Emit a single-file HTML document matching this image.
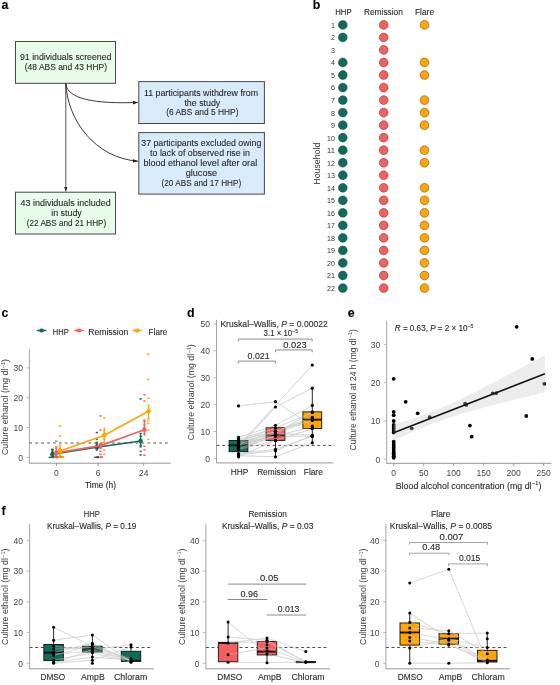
<!DOCTYPE html>
<html><head><meta charset="utf-8"><title>Figure</title>
<style>
html,body{margin:0;padding:0;background:#fff;}
body{width:560px;height:685px;overflow:hidden;}
svg{display:block;font-family:"Liberation Sans", sans-serif;will-change:transform;}
text{stroke:#2b2b2b;stroke-width:0.1px;}
</style></head><body>
<svg width="560" height="685" viewBox="0 0 560 685">
<rect x="0" y="0" width="560" height="685" fill="#fff"/>
<text x="1.50" y="8.80" font-size="12.4" fill="#000" font-weight="bold">a</text>
<text x="312.70" y="8.80" font-size="12.4" fill="#000" font-weight="bold">b</text>
<text x="1.50" y="316.80" font-size="12.4" fill="#000" font-weight="bold">c</text>
<text x="187.00" y="316.80" font-size="12.4" fill="#000" font-weight="bold">d</text>
<text x="347.70" y="316.80" font-size="12.4" fill="#000" font-weight="bold">e</text>
<text x="1.50" y="514.80" font-size="12.4" fill="#000" font-weight="bold">f</text>
<rect x="15.50" y="41.50" width="100.00" height="41.80" fill="#e7fcea" stroke="#474747" stroke-width="1"/>
<text x="65.70" y="60.20" font-size="9.6" fill="#231f20" text-anchor="middle" textLength="91.40" lengthAdjust="spacingAndGlyphs">91 individuals screened</text>
<text x="65.90" y="69.90" font-size="9.6" fill="#231f20" text-anchor="middle" textLength="82.20" lengthAdjust="spacingAndGlyphs">(48 ABS and 43 HHP)</text>
<rect x="138.80" y="81.60" width="125.60" height="41.90" fill="#d8ebfb" stroke="#474747" stroke-width="1"/>
<text x="201.00" y="95.60" font-size="9.6" fill="#231f20" text-anchor="middle" textLength="114.10" lengthAdjust="spacingAndGlyphs">11 participants withdrew from</text>
<text x="202.35" y="105.60" font-size="9.6" fill="#231f20" text-anchor="middle" textLength="35.90" lengthAdjust="spacingAndGlyphs">the study</text>
<text x="202.35" y="115.20" font-size="9.6" fill="#231f20" text-anchor="middle" textLength="72.30" lengthAdjust="spacingAndGlyphs">(6 ABS and 5 HHP)</text>
<rect x="138.80" y="132.60" width="125.60" height="61.50" fill="#d8ebfb" stroke="#474747" stroke-width="1"/>
<text x="201.30" y="146.40" font-size="9.6" fill="#231f20" text-anchor="middle" textLength="120.00" lengthAdjust="spacingAndGlyphs">37 participants excluded owing</text>
<text x="200.05" y="156.20" font-size="9.6" fill="#231f20" text-anchor="middle" textLength="99.90" lengthAdjust="spacingAndGlyphs">to lack of observed rise in</text>
<text x="200.30" y="166.00" font-size="9.6" fill="#231f20" text-anchor="middle" textLength="113.80" lengthAdjust="spacingAndGlyphs">blood ethanol level after oral</text>
<text x="201.40" y="176.10" font-size="9.6" fill="#231f20" text-anchor="middle" textLength="31.40" lengthAdjust="spacingAndGlyphs">glucose</text>
<text x="201.40" y="186.00" font-size="9.6" fill="#231f20" text-anchor="middle" textLength="79.60" lengthAdjust="spacingAndGlyphs">(20 ABS and 17 HHP)</text>
<rect x="15.50" y="192.20" width="100.00" height="41.80" fill="#e7fcea" stroke="#474747" stroke-width="1"/>
<text x="65.60" y="205.80" font-size="9.6" fill="#231f20" text-anchor="middle" textLength="90.25" lengthAdjust="spacingAndGlyphs">43 individuals included</text>
<text x="66.50" y="215.90" font-size="9.6" fill="#231f20" text-anchor="middle" textLength="30.50" lengthAdjust="spacingAndGlyphs">in study</text>
<text x="66.50" y="225.70" font-size="9.6" fill="#231f20" text-anchor="middle" textLength="79.50" lengthAdjust="spacingAndGlyphs">(22 ABS and 21 HHP)</text>
<defs><marker id="ah" markerWidth="6" markerHeight="6" refX="5" refY="3" orient="auto" markerUnits="userSpaceOnUse"><path d="M0,1.2 L5,3 L0,4.8 z" fill="#222"/></marker></defs>
<path d="M65.8,83.3 L65.8,191.5" stroke="#555" stroke-width="1" fill="none" marker-end="url(#ah)"/>
<path d="M65.8,83.5 C67,99 95,104.2 138,102.4" stroke="#222" stroke-width="0.9" fill="none" marker-end="url(#ah)"/>
<path d="M65.8,83.5 C67.5,120 95,158 138,161.2" stroke="#222" stroke-width="0.9" fill="none" marker-end="url(#ah)"/>
<text x="343.40" y="14.50" font-size="8.2" fill="#231f20" text-anchor="middle" textLength="16.50" lengthAdjust="spacingAndGlyphs">HHP</text>
<text x="383.40" y="14.50" font-size="8.2" fill="#231f20" text-anchor="middle" textLength="38.80" lengthAdjust="spacingAndGlyphs">Remission</text>
<text x="424.50" y="14.50" font-size="8.2" fill="#231f20" text-anchor="middle" textLength="19.20" lengthAdjust="spacingAndGlyphs">Flare</text>
<text x="320.20" y="163.70" font-size="8.6" fill="#2e2e2e" text-anchor="middle" textLength="42.00" lengthAdjust="spacingAndGlyphs" transform="rotate(-90 320.20 163.70)" style="stroke:none">Household</text>
<text x="335.00" y="27.80" font-size="6.6" fill="#333" text-anchor="end" textLength="3.95" lengthAdjust="spacingAndGlyphs" style="stroke:none">1</text>
<circle cx="342.80" cy="24.90" r="4.40" fill="#0d6d5a" stroke="#1d3a33" stroke-width="0.5"/>
<circle cx="383.70" cy="24.90" r="4.40" fill="#f4605f" stroke="#5a2a2a" stroke-width="0.5"/>
<circle cx="424.50" cy="24.90" r="4.40" fill="#ffa502" stroke="#5a4010" stroke-width="0.5"/>
<text x="335.00" y="40.33" font-size="6.6" fill="#333" text-anchor="end" textLength="3.95" lengthAdjust="spacingAndGlyphs" style="stroke:none">2</text>
<circle cx="342.80" cy="37.43" r="4.40" fill="#0d6d5a" stroke="#1d3a33" stroke-width="0.5"/>
<circle cx="383.70" cy="37.43" r="4.40" fill="#f4605f" stroke="#5a2a2a" stroke-width="0.5"/>
<text x="335.00" y="52.86" font-size="6.6" fill="#333" text-anchor="end" textLength="3.95" lengthAdjust="spacingAndGlyphs" style="stroke:none">3</text>
<circle cx="383.70" cy="49.96" r="4.40" fill="#f4605f" stroke="#5a2a2a" stroke-width="0.5"/>
<text x="335.00" y="65.39" font-size="6.6" fill="#333" text-anchor="end" textLength="3.95" lengthAdjust="spacingAndGlyphs" style="stroke:none">4</text>
<circle cx="342.80" cy="62.49" r="4.40" fill="#0d6d5a" stroke="#1d3a33" stroke-width="0.5"/>
<circle cx="383.70" cy="62.49" r="4.40" fill="#f4605f" stroke="#5a2a2a" stroke-width="0.5"/>
<circle cx="424.50" cy="62.49" r="4.40" fill="#ffa502" stroke="#5a4010" stroke-width="0.5"/>
<text x="335.00" y="77.92" font-size="6.6" fill="#333" text-anchor="end" textLength="3.95" lengthAdjust="spacingAndGlyphs" style="stroke:none">5</text>
<circle cx="342.80" cy="75.02" r="4.40" fill="#0d6d5a" stroke="#1d3a33" stroke-width="0.5"/>
<circle cx="383.70" cy="75.02" r="4.40" fill="#f4605f" stroke="#5a2a2a" stroke-width="0.5"/>
<circle cx="424.50" cy="75.02" r="4.40" fill="#ffa502" stroke="#5a4010" stroke-width="0.5"/>
<text x="335.00" y="90.45" font-size="6.6" fill="#333" text-anchor="end" textLength="3.95" lengthAdjust="spacingAndGlyphs" style="stroke:none">6</text>
<circle cx="342.80" cy="87.55" r="4.40" fill="#0d6d5a" stroke="#1d3a33" stroke-width="0.5"/>
<circle cx="383.70" cy="87.55" r="4.40" fill="#f4605f" stroke="#5a2a2a" stroke-width="0.5"/>
<text x="335.00" y="102.98" font-size="6.6" fill="#333" text-anchor="end" textLength="3.95" lengthAdjust="spacingAndGlyphs" style="stroke:none">7</text>
<circle cx="342.80" cy="100.08" r="4.40" fill="#0d6d5a" stroke="#1d3a33" stroke-width="0.5"/>
<circle cx="383.70" cy="100.08" r="4.40" fill="#f4605f" stroke="#5a2a2a" stroke-width="0.5"/>
<circle cx="424.50" cy="100.08" r="4.40" fill="#ffa502" stroke="#5a4010" stroke-width="0.5"/>
<text x="335.00" y="115.51" font-size="6.6" fill="#333" text-anchor="end" textLength="3.95" lengthAdjust="spacingAndGlyphs" style="stroke:none">8</text>
<circle cx="342.80" cy="112.61" r="4.40" fill="#0d6d5a" stroke="#1d3a33" stroke-width="0.5"/>
<circle cx="383.70" cy="112.61" r="4.40" fill="#f4605f" stroke="#5a2a2a" stroke-width="0.5"/>
<circle cx="424.50" cy="112.61" r="4.40" fill="#ffa502" stroke="#5a4010" stroke-width="0.5"/>
<text x="335.00" y="128.04" font-size="6.6" fill="#333" text-anchor="end" textLength="3.95" lengthAdjust="spacingAndGlyphs" style="stroke:none">9</text>
<circle cx="342.80" cy="125.14" r="4.40" fill="#0d6d5a" stroke="#1d3a33" stroke-width="0.5"/>
<circle cx="383.70" cy="125.14" r="4.40" fill="#f4605f" stroke="#5a2a2a" stroke-width="0.5"/>
<circle cx="424.50" cy="125.14" r="4.40" fill="#ffa502" stroke="#5a4010" stroke-width="0.5"/>
<text x="335.00" y="140.57" font-size="6.6" fill="#333" text-anchor="end" textLength="7.90" lengthAdjust="spacingAndGlyphs" style="stroke:none">10</text>
<circle cx="342.80" cy="137.67" r="4.40" fill="#0d6d5a" stroke="#1d3a33" stroke-width="0.5"/>
<circle cx="383.70" cy="137.67" r="4.40" fill="#f4605f" stroke="#5a2a2a" stroke-width="0.5"/>
<text x="335.00" y="153.10" font-size="6.6" fill="#333" text-anchor="end" textLength="7.90" lengthAdjust="spacingAndGlyphs" style="stroke:none">11</text>
<circle cx="342.80" cy="150.20" r="4.40" fill="#0d6d5a" stroke="#1d3a33" stroke-width="0.5"/>
<circle cx="383.70" cy="150.20" r="4.40" fill="#f4605f" stroke="#5a2a2a" stroke-width="0.5"/>
<circle cx="424.50" cy="150.20" r="4.40" fill="#ffa502" stroke="#5a4010" stroke-width="0.5"/>
<text x="335.00" y="165.63" font-size="6.6" fill="#333" text-anchor="end" textLength="7.90" lengthAdjust="spacingAndGlyphs" style="stroke:none">12</text>
<circle cx="342.80" cy="162.73" r="4.40" fill="#0d6d5a" stroke="#1d3a33" stroke-width="0.5"/>
<circle cx="383.70" cy="162.73" r="4.40" fill="#f4605f" stroke="#5a2a2a" stroke-width="0.5"/>
<circle cx="424.50" cy="162.73" r="4.40" fill="#ffa502" stroke="#5a4010" stroke-width="0.5"/>
<text x="335.00" y="178.16" font-size="6.6" fill="#333" text-anchor="end" textLength="7.90" lengthAdjust="spacingAndGlyphs" style="stroke:none">13</text>
<circle cx="342.80" cy="175.26" r="4.40" fill="#0d6d5a" stroke="#1d3a33" stroke-width="0.5"/>
<circle cx="383.70" cy="175.26" r="4.40" fill="#f4605f" stroke="#5a2a2a" stroke-width="0.5"/>
<text x="335.00" y="190.69" font-size="6.6" fill="#333" text-anchor="end" textLength="7.90" lengthAdjust="spacingAndGlyphs" style="stroke:none">14</text>
<circle cx="342.80" cy="187.79" r="4.40" fill="#0d6d5a" stroke="#1d3a33" stroke-width="0.5"/>
<circle cx="383.70" cy="187.79" r="4.40" fill="#f4605f" stroke="#5a2a2a" stroke-width="0.5"/>
<circle cx="424.50" cy="187.79" r="4.40" fill="#ffa502" stroke="#5a4010" stroke-width="0.5"/>
<text x="335.00" y="203.22" font-size="6.6" fill="#333" text-anchor="end" textLength="7.90" lengthAdjust="spacingAndGlyphs" style="stroke:none">15</text>
<circle cx="342.80" cy="200.32" r="4.40" fill="#0d6d5a" stroke="#1d3a33" stroke-width="0.5"/>
<circle cx="383.70" cy="200.32" r="4.40" fill="#f4605f" stroke="#5a2a2a" stroke-width="0.5"/>
<circle cx="424.50" cy="200.32" r="4.40" fill="#ffa502" stroke="#5a4010" stroke-width="0.5"/>
<text x="335.00" y="215.75" font-size="6.6" fill="#333" text-anchor="end" textLength="7.90" lengthAdjust="spacingAndGlyphs" style="stroke:none">16</text>
<circle cx="342.80" cy="212.85" r="4.40" fill="#0d6d5a" stroke="#1d3a33" stroke-width="0.5"/>
<circle cx="383.70" cy="212.85" r="4.40" fill="#f4605f" stroke="#5a2a2a" stroke-width="0.5"/>
<circle cx="424.50" cy="212.85" r="4.40" fill="#ffa502" stroke="#5a4010" stroke-width="0.5"/>
<text x="335.00" y="228.28" font-size="6.6" fill="#333" text-anchor="end" textLength="7.90" lengthAdjust="spacingAndGlyphs" style="stroke:none">17</text>
<circle cx="342.80" cy="225.38" r="4.40" fill="#0d6d5a" stroke="#1d3a33" stroke-width="0.5"/>
<circle cx="383.70" cy="225.38" r="4.40" fill="#f4605f" stroke="#5a2a2a" stroke-width="0.5"/>
<circle cx="424.50" cy="225.38" r="4.40" fill="#ffa502" stroke="#5a4010" stroke-width="0.5"/>
<text x="335.00" y="240.81" font-size="6.6" fill="#333" text-anchor="end" textLength="7.90" lengthAdjust="spacingAndGlyphs" style="stroke:none">18</text>
<circle cx="342.80" cy="237.91" r="4.40" fill="#0d6d5a" stroke="#1d3a33" stroke-width="0.5"/>
<circle cx="383.70" cy="237.91" r="4.40" fill="#f4605f" stroke="#5a2a2a" stroke-width="0.5"/>
<circle cx="424.50" cy="237.91" r="4.40" fill="#ffa502" stroke="#5a4010" stroke-width="0.5"/>
<text x="335.00" y="253.34" font-size="6.6" fill="#333" text-anchor="end" textLength="7.90" lengthAdjust="spacingAndGlyphs" style="stroke:none">19</text>
<circle cx="342.80" cy="250.44" r="4.40" fill="#0d6d5a" stroke="#1d3a33" stroke-width="0.5"/>
<circle cx="383.70" cy="250.44" r="4.40" fill="#f4605f" stroke="#5a2a2a" stroke-width="0.5"/>
<circle cx="424.50" cy="250.44" r="4.40" fill="#ffa502" stroke="#5a4010" stroke-width="0.5"/>
<text x="335.00" y="265.87" font-size="6.6" fill="#333" text-anchor="end" textLength="7.90" lengthAdjust="spacingAndGlyphs" style="stroke:none">20</text>
<circle cx="342.80" cy="262.97" r="4.40" fill="#0d6d5a" stroke="#1d3a33" stroke-width="0.5"/>
<circle cx="383.70" cy="262.97" r="4.40" fill="#f4605f" stroke="#5a2a2a" stroke-width="0.5"/>
<circle cx="424.50" cy="262.97" r="4.40" fill="#ffa502" stroke="#5a4010" stroke-width="0.5"/>
<text x="335.00" y="278.40" font-size="6.6" fill="#333" text-anchor="end" textLength="7.90" lengthAdjust="spacingAndGlyphs" style="stroke:none">21</text>
<circle cx="342.80" cy="275.50" r="4.40" fill="#0d6d5a" stroke="#1d3a33" stroke-width="0.5"/>
<circle cx="383.70" cy="275.50" r="4.40" fill="#f4605f" stroke="#5a2a2a" stroke-width="0.5"/>
<circle cx="424.50" cy="275.50" r="4.40" fill="#ffa502" stroke="#5a4010" stroke-width="0.5"/>
<text x="335.00" y="290.93" font-size="6.6" fill="#333" text-anchor="end" textLength="7.90" lengthAdjust="spacingAndGlyphs" style="stroke:none">22</text>
<circle cx="342.80" cy="288.03" r="4.40" fill="#0d6d5a" stroke="#1d3a33" stroke-width="0.5"/>
<circle cx="383.70" cy="288.03" r="4.40" fill="#f4605f" stroke="#5a2a2a" stroke-width="0.5"/>
<circle cx="424.50" cy="288.03" r="4.40" fill="#ffa502" stroke="#5a4010" stroke-width="0.5"/>
<line x1="36.80" y1="330.50" x2="46.40" y2="330.50" stroke="#0d6d5a" stroke-width="1.5"/>
<ellipse cx="41.60" cy="330.5" rx="2.5" ry="2.1" fill="#0d6d5a"/>
<text x="52.80" y="334.70" font-size="8.4" fill="#231f20" textLength="16.00" lengthAdjust="spacingAndGlyphs">HHP</text>
<line x1="74.20" y1="330.50" x2="83.80" y2="330.50" stroke="#f4605f" stroke-width="1.5"/>
<ellipse cx="79.00" cy="330.5" rx="2.5" ry="2.1" fill="#f4605f"/>
<text x="88.30" y="334.70" font-size="8.4" fill="#231f20" textLength="40.00" lengthAdjust="spacingAndGlyphs">Remission</text>
<line x1="132.30" y1="330.50" x2="141.90" y2="330.50" stroke="#ffa502" stroke-width="1.5"/>
<ellipse cx="137.10" cy="330.5" rx="2.5" ry="2.1" fill="#ffa502"/>
<text x="148.60" y="334.70" font-size="8.4" fill="#231f20" textLength="18.60" lengthAdjust="spacingAndGlyphs">Flare</text>
<line x1="29.40" y1="349.10" x2="29.40" y2="463.40" stroke="#9a9a9a" stroke-width="0.9"/>
<line x1="26.40" y1="457.30" x2="29.40" y2="457.30" stroke="#aaa" stroke-width="0.8"/>
<text x="22.90" y="460.70" font-size="8.4" fill="#444" text-anchor="end" textLength="4.75" lengthAdjust="spacingAndGlyphs" style="stroke:none">0</text>
<line x1="26.40" y1="427.50" x2="29.40" y2="427.50" stroke="#aaa" stroke-width="0.8"/>
<text x="22.90" y="430.90" font-size="8.4" fill="#444" text-anchor="end" textLength="9.50" lengthAdjust="spacingAndGlyphs" style="stroke:none">10</text>
<line x1="26.40" y1="397.70" x2="29.40" y2="397.70" stroke="#aaa" stroke-width="0.8"/>
<text x="22.90" y="401.10" font-size="8.4" fill="#444" text-anchor="end" textLength="9.50" lengthAdjust="spacingAndGlyphs" style="stroke:none">20</text>
<line x1="26.40" y1="367.90" x2="29.40" y2="367.90" stroke="#aaa" stroke-width="0.8"/>
<text x="22.90" y="371.30" font-size="8.4" fill="#444" text-anchor="end" textLength="9.50" lengthAdjust="spacingAndGlyphs" style="stroke:none">30</text>
<line x1="29.40" y1="463.20" x2="170.80" y2="463.20" stroke="#8a8a8a" stroke-width="0.9"/>
<line x1="56.40" y1="463.20" x2="56.40" y2="466.20" stroke="#8a8a8a" stroke-width="0.8"/>
<text x="56.40" y="476.20" font-size="8.4" fill="#444" text-anchor="middle" textLength="4.75" lengthAdjust="spacingAndGlyphs" style="stroke:none">0</text>
<line x1="98.10" y1="463.20" x2="98.10" y2="466.20" stroke="#8a8a8a" stroke-width="0.8"/>
<text x="98.10" y="476.20" font-size="8.4" fill="#444" text-anchor="middle" textLength="4.75" lengthAdjust="spacingAndGlyphs" style="stroke:none">6</text>
<line x1="143.70" y1="463.20" x2="143.70" y2="466.20" stroke="#8a8a8a" stroke-width="0.8"/>
<text x="143.70" y="476.20" font-size="8.4" fill="#444" text-anchor="middle" textLength="9.50" lengthAdjust="spacingAndGlyphs" style="stroke:none">24</text>
<text x="100.50" y="488.20" font-size="8.2" fill="#231f20" text-anchor="middle" textLength="31.00" lengthAdjust="spacingAndGlyphs">Time (h)</text>
<text x="8.10" y="407.00" font-size="8.6" fill="#3a3a3a" text-anchor="middle" transform="rotate(-90 8.10 407.00)" style="stroke:none" textLength="96.00" lengthAdjust="spacingAndGlyphs">Culture ethanol (mg dl<tspan font-size="5.33" dy="-3.4" dx="0.5">−1</tspan><tspan dy="3.4">)</tspan></text>
<line x1="29.40" y1="443.00" x2="171.00" y2="443.00" stroke="#555" stroke-width="1.1" stroke-dasharray="2.7 3.2"/>
<rect x="52.20" y="456.55" width="2.20" height="1.50" fill="#0d6d5a" stroke="none" stroke-width="1"/>
<rect x="52.20" y="456.55" width="2.20" height="1.50" fill="#0d6d5a" stroke="none" stroke-width="1"/>
<rect x="52.20" y="456.55" width="2.20" height="1.50" fill="#0d6d5a" stroke="none" stroke-width="1"/>
<rect x="52.20" y="456.55" width="2.20" height="1.50" fill="#0d6d5a" stroke="none" stroke-width="1"/>
<rect x="51.30" y="455.66" width="2.20" height="1.50" fill="#0d6d5a" stroke="none" stroke-width="1"/>
<rect x="51.30" y="454.76" width="2.20" height="1.50" fill="#0d6d5a" stroke="none" stroke-width="1"/>
<rect x="51.30" y="453.57" width="2.20" height="1.50" fill="#0d6d5a" stroke="none" stroke-width="1"/>
<rect x="51.30" y="452.08" width="2.20" height="1.50" fill="#0d6d5a" stroke="none" stroke-width="1"/>
<rect x="51.30" y="450.59" width="2.20" height="1.50" fill="#0d6d5a" stroke="none" stroke-width="1"/>
<rect x="51.30" y="449.10" width="2.20" height="1.50" fill="#0d6d5a" stroke="none" stroke-width="1"/>
<rect x="51.30" y="448.50" width="2.20" height="1.50" fill="#0d6d5a" stroke="none" stroke-width="1"/>
<rect x="96.60" y="456.55" width="2.20" height="1.50" fill="#0d6d5a" stroke="none" stroke-width="1"/>
<rect x="96.60" y="456.55" width="2.20" height="1.50" fill="#0d6d5a" stroke="none" stroke-width="1"/>
<rect x="96.60" y="456.55" width="2.20" height="1.50" fill="#0d6d5a" stroke="none" stroke-width="1"/>
<rect x="96.60" y="456.55" width="2.20" height="1.50" fill="#0d6d5a" stroke="none" stroke-width="1"/>
<rect x="96.60" y="456.55" width="2.20" height="1.50" fill="#0d6d5a" stroke="none" stroke-width="1"/>
<rect x="95.70" y="449.10" width="2.20" height="1.50" fill="#0d6d5a" stroke="none" stroke-width="1"/>
<rect x="95.70" y="447.61" width="2.20" height="1.50" fill="#0d6d5a" stroke="none" stroke-width="1"/>
<rect x="95.70" y="444.63" width="2.20" height="1.50" fill="#0d6d5a" stroke="none" stroke-width="1"/>
<rect x="95.70" y="443.14" width="2.20" height="1.50" fill="#0d6d5a" stroke="none" stroke-width="1"/>
<rect x="95.70" y="441.65" width="2.20" height="1.50" fill="#0d6d5a" stroke="none" stroke-width="1"/>
<rect x="95.70" y="438.37" width="2.20" height="1.50" fill="#0d6d5a" stroke="none" stroke-width="1"/>
<rect x="95.70" y="431.82" width="2.20" height="1.50" fill="#0d6d5a" stroke="none" stroke-width="1"/>
<rect x="139.50" y="454.17" width="2.20" height="1.50" fill="#0d6d5a" stroke="none" stroke-width="1"/>
<rect x="139.50" y="450.59" width="2.20" height="1.50" fill="#0d6d5a" stroke="none" stroke-width="1"/>
<rect x="139.50" y="446.12" width="2.20" height="1.50" fill="#0d6d5a" stroke="none" stroke-width="1"/>
<rect x="139.50" y="444.63" width="2.20" height="1.50" fill="#0d6d5a" stroke="none" stroke-width="1"/>
<rect x="139.50" y="441.65" width="2.20" height="1.50" fill="#0d6d5a" stroke="none" stroke-width="1"/>
<rect x="139.50" y="440.16" width="2.20" height="1.50" fill="#0d6d5a" stroke="none" stroke-width="1"/>
<rect x="139.50" y="438.67" width="2.20" height="1.50" fill="#0d6d5a" stroke="none" stroke-width="1"/>
<rect x="139.50" y="435.69" width="2.20" height="1.50" fill="#0d6d5a" stroke="none" stroke-width="1"/>
<rect x="139.50" y="432.71" width="2.20" height="1.50" fill="#0d6d5a" stroke="none" stroke-width="1"/>
<rect x="139.50" y="398.14" width="2.20" height="1.50" fill="#0d6d5a" stroke="none" stroke-width="1"/>
<rect x="56.00" y="456.55" width="2.20" height="1.50" fill="#f4605f" stroke="none" stroke-width="1"/>
<rect x="56.00" y="456.55" width="2.20" height="1.50" fill="#f4605f" stroke="none" stroke-width="1"/>
<rect x="56.00" y="456.55" width="2.20" height="1.50" fill="#f4605f" stroke="none" stroke-width="1"/>
<rect x="56.00" y="456.55" width="2.20" height="1.50" fill="#f4605f" stroke="none" stroke-width="1"/>
<rect x="55.10" y="455.06" width="2.20" height="1.50" fill="#f4605f" stroke="none" stroke-width="1"/>
<rect x="55.10" y="453.57" width="2.20" height="1.50" fill="#f4605f" stroke="none" stroke-width="1"/>
<rect x="55.10" y="452.08" width="2.20" height="1.50" fill="#f4605f" stroke="none" stroke-width="1"/>
<rect x="55.10" y="450.59" width="2.20" height="1.50" fill="#f4605f" stroke="none" stroke-width="1"/>
<rect x="55.10" y="447.61" width="2.20" height="1.50" fill="#f4605f" stroke="none" stroke-width="1"/>
<rect x="55.10" y="446.12" width="2.20" height="1.50" fill="#f4605f" stroke="none" stroke-width="1"/>
<rect x="55.10" y="440.46" width="2.20" height="1.50" fill="#f4605f" stroke="none" stroke-width="1"/>
<rect x="100.30" y="456.55" width="2.20" height="1.50" fill="#f4605f" stroke="none" stroke-width="1"/>
<rect x="100.30" y="456.55" width="2.20" height="1.50" fill="#f4605f" stroke="none" stroke-width="1"/>
<rect x="100.30" y="456.55" width="2.20" height="1.50" fill="#f4605f" stroke="none" stroke-width="1"/>
<rect x="99.40" y="453.57" width="2.20" height="1.50" fill="#f4605f" stroke="none" stroke-width="1"/>
<rect x="99.40" y="450.59" width="2.20" height="1.50" fill="#f4605f" stroke="none" stroke-width="1"/>
<rect x="99.40" y="447.61" width="2.20" height="1.50" fill="#f4605f" stroke="none" stroke-width="1"/>
<rect x="99.40" y="446.12" width="2.20" height="1.50" fill="#f4605f" stroke="none" stroke-width="1"/>
<rect x="99.40" y="443.14" width="2.20" height="1.50" fill="#f4605f" stroke="none" stroke-width="1"/>
<rect x="99.40" y="429.13" width="2.20" height="1.50" fill="#f4605f" stroke="none" stroke-width="1"/>
<rect x="99.40" y="415.13" width="2.20" height="1.50" fill="#f4605f" stroke="none" stroke-width="1"/>
<rect x="143.30" y="454.46" width="2.20" height="1.50" fill="#f4605f" stroke="none" stroke-width="1"/>
<rect x="143.30" y="449.10" width="2.20" height="1.50" fill="#f4605f" stroke="none" stroke-width="1"/>
<rect x="143.30" y="445.52" width="2.20" height="1.50" fill="#f4605f" stroke="none" stroke-width="1"/>
<rect x="143.30" y="432.71" width="2.20" height="1.50" fill="#f4605f" stroke="none" stroke-width="1"/>
<rect x="143.30" y="426.75" width="2.20" height="1.50" fill="#f4605f" stroke="none" stroke-width="1"/>
<rect x="143.30" y="423.77" width="2.20" height="1.50" fill="#f4605f" stroke="none" stroke-width="1"/>
<rect x="143.30" y="420.79" width="2.20" height="1.50" fill="#f4605f" stroke="none" stroke-width="1"/>
<rect x="143.30" y="419.30" width="2.20" height="1.50" fill="#f4605f" stroke="none" stroke-width="1"/>
<rect x="143.30" y="400.23" width="2.20" height="1.50" fill="#f4605f" stroke="none" stroke-width="1"/>
<rect x="143.30" y="393.97" width="2.20" height="1.50" fill="#f4605f" stroke="none" stroke-width="1"/>
<rect x="59.90" y="456.55" width="2.20" height="1.50" fill="#ffa502" stroke="none" stroke-width="1"/>
<rect x="59.90" y="456.55" width="2.20" height="1.50" fill="#ffa502" stroke="none" stroke-width="1"/>
<rect x="59.90" y="456.55" width="2.20" height="1.50" fill="#ffa502" stroke="none" stroke-width="1"/>
<rect x="59.90" y="456.55" width="2.20" height="1.50" fill="#ffa502" stroke="none" stroke-width="1"/>
<rect x="59.90" y="456.55" width="2.20" height="1.50" fill="#ffa502" stroke="none" stroke-width="1"/>
<rect x="59.00" y="455.06" width="2.20" height="1.50" fill="#ffa502" stroke="none" stroke-width="1"/>
<rect x="59.00" y="453.57" width="2.20" height="1.50" fill="#ffa502" stroke="none" stroke-width="1"/>
<rect x="59.00" y="450.59" width="2.20" height="1.50" fill="#ffa502" stroke="none" stroke-width="1"/>
<rect x="59.00" y="447.61" width="2.20" height="1.50" fill="#ffa502" stroke="none" stroke-width="1"/>
<rect x="59.00" y="444.63" width="2.20" height="1.50" fill="#ffa502" stroke="none" stroke-width="1"/>
<rect x="59.00" y="435.39" width="2.20" height="1.50" fill="#ffa502" stroke="none" stroke-width="1"/>
<rect x="59.00" y="425.26" width="2.20" height="1.50" fill="#ffa502" stroke="none" stroke-width="1"/>
<rect x="103.20" y="453.57" width="2.20" height="1.50" fill="#ffa502" stroke="none" stroke-width="1"/>
<rect x="103.20" y="449.40" width="2.20" height="1.50" fill="#ffa502" stroke="none" stroke-width="1"/>
<rect x="103.20" y="441.65" width="2.20" height="1.50" fill="#ffa502" stroke="none" stroke-width="1"/>
<rect x="103.20" y="438.67" width="2.20" height="1.50" fill="#ffa502" stroke="none" stroke-width="1"/>
<rect x="103.20" y="435.69" width="2.20" height="1.50" fill="#ffa502" stroke="none" stroke-width="1"/>
<rect x="103.20" y="432.71" width="2.20" height="1.50" fill="#ffa502" stroke="none" stroke-width="1"/>
<rect x="103.20" y="429.73" width="2.20" height="1.50" fill="#ffa502" stroke="none" stroke-width="1"/>
<rect x="103.20" y="417.21" width="2.20" height="1.50" fill="#ffa502" stroke="none" stroke-width="1"/>
<rect x="147.20" y="438.67" width="2.20" height="1.50" fill="#ffa502" stroke="none" stroke-width="1"/>
<rect x="147.20" y="429.13" width="2.20" height="1.50" fill="#ffa502" stroke="none" stroke-width="1"/>
<rect x="147.20" y="422.88" width="2.20" height="1.50" fill="#ffa502" stroke="none" stroke-width="1"/>
<rect x="147.20" y="420.19" width="2.20" height="1.50" fill="#ffa502" stroke="none" stroke-width="1"/>
<rect x="147.20" y="417.81" width="2.20" height="1.50" fill="#ffa502" stroke="none" stroke-width="1"/>
<rect x="147.20" y="410.06" width="2.20" height="1.50" fill="#ffa502" stroke="none" stroke-width="1"/>
<rect x="147.20" y="404.70" width="2.20" height="1.50" fill="#ffa502" stroke="none" stroke-width="1"/>
<rect x="147.20" y="397.55" width="2.20" height="1.50" fill="#ffa502" stroke="none" stroke-width="1"/>
<rect x="147.20" y="378.77" width="2.20" height="1.50" fill="#ffa502" stroke="none" stroke-width="1"/>
<rect x="147.20" y="353.44" width="2.20" height="1.50" fill="#ffa502" stroke="none" stroke-width="1"/>
<rect x="48.60" y="456.60" width="15.50" height="1.40" fill="#0d6d5a" stroke="none" stroke-width="1"/>
<rect x="53.80" y="456.60" width="5.00" height="1.40" fill="#f4605f" stroke="none" stroke-width="1"/>
<rect x="58.00" y="456.60" width="6.00" height="1.40" fill="#ffa502" stroke="none" stroke-width="1"/>
<rect x="94.20" y="456.60" width="5.00" height="1.40" fill="#0d6d5a" stroke="none" stroke-width="1"/>
<rect x="99.20" y="456.60" width="3.00" height="1.40" fill="#f4605f" stroke="none" stroke-width="1"/>
<path d="M52.40,454.20 L96.80,447.30 L140.60,441.00" stroke="#0d6d5a" stroke-width="1.6" fill="none"/>
<line x1="52.40" y1="449.20" x2="52.40" y2="457.40" stroke="#0d6d5a" stroke-width="1.3"/>
<circle cx="52.40" cy="454.20" r="2.30" fill="#0d6d5a" stroke="none" stroke-width="0.5"/>
<line x1="96.80" y1="443.80" x2="96.80" y2="450.20" stroke="#0d6d5a" stroke-width="1.3"/>
<circle cx="96.80" cy="447.30" r="2.30" fill="#0d6d5a" stroke="none" stroke-width="0.5"/>
<line x1="140.60" y1="434.30" x2="140.60" y2="446.50" stroke="#0d6d5a" stroke-width="1.3"/>
<circle cx="140.60" cy="441.00" r="2.30" fill="#0d6d5a" stroke="none" stroke-width="0.5"/>
<path d="M56.20,452.90 L100.50,445.60 L144.40,429.80" stroke="#f4605f" stroke-width="1.6" fill="none"/>
<line x1="56.20" y1="449.00" x2="56.20" y2="456.50" stroke="#f4605f" stroke-width="1.3"/>
<circle cx="56.20" cy="452.90" r="2.30" fill="#f4605f" stroke="none" stroke-width="0.5"/>
<line x1="100.50" y1="443.20" x2="100.50" y2="449.00" stroke="#f4605f" stroke-width="1.3"/>
<circle cx="100.50" cy="445.60" r="2.30" fill="#f4605f" stroke="none" stroke-width="0.5"/>
<line x1="144.40" y1="420.60" x2="144.40" y2="435.90" stroke="#f4605f" stroke-width="1.3"/>
<circle cx="144.40" cy="429.80" r="2.30" fill="#f4605f" stroke="none" stroke-width="0.5"/>
<path d="M60.10,450.90 L104.30,435.20 L148.60,411.30" stroke="#ffa502" stroke-width="1.6" fill="none"/>
<line x1="60.10" y1="446.00" x2="60.10" y2="454.50" stroke="#ffa502" stroke-width="1.3"/>
<circle cx="60.10" cy="450.90" r="2.30" fill="#ffa502" stroke="none" stroke-width="0.5"/>
<line x1="104.30" y1="427.40" x2="104.30" y2="442.00" stroke="#ffa502" stroke-width="1.3"/>
<circle cx="104.30" cy="435.20" r="2.30" fill="#ffa502" stroke="none" stroke-width="0.5"/>
<line x1="148.60" y1="404.90" x2="148.60" y2="418.60" stroke="#ffa502" stroke-width="1.3"/>
<circle cx="148.60" cy="411.30" r="2.30" fill="#ffa502" stroke="none" stroke-width="0.5"/>
<line x1="216.50" y1="319.80" x2="216.50" y2="463.00" stroke="#9a9a9a" stroke-width="0.9"/>
<line x1="213.50" y1="458.40" x2="216.50" y2="458.40" stroke="#aaa" stroke-width="0.8"/>
<text x="210.00" y="461.80" font-size="8.4" fill="#444" text-anchor="end" textLength="4.75" lengthAdjust="spacingAndGlyphs" style="stroke:none">0</text>
<line x1="213.50" y1="431.50" x2="216.50" y2="431.50" stroke="#aaa" stroke-width="0.8"/>
<text x="210.00" y="434.90" font-size="8.4" fill="#444" text-anchor="end" textLength="9.50" lengthAdjust="spacingAndGlyphs" style="stroke:none">10</text>
<line x1="213.50" y1="404.60" x2="216.50" y2="404.60" stroke="#aaa" stroke-width="0.8"/>
<text x="210.00" y="408.00" font-size="8.4" fill="#444" text-anchor="end" textLength="9.50" lengthAdjust="spacingAndGlyphs" style="stroke:none">20</text>
<line x1="213.50" y1="377.70" x2="216.50" y2="377.70" stroke="#aaa" stroke-width="0.8"/>
<text x="210.00" y="381.10" font-size="8.4" fill="#444" text-anchor="end" textLength="9.50" lengthAdjust="spacingAndGlyphs" style="stroke:none">30</text>
<line x1="213.50" y1="350.80" x2="216.50" y2="350.80" stroke="#aaa" stroke-width="0.8"/>
<text x="210.00" y="354.20" font-size="8.4" fill="#444" text-anchor="end" textLength="9.50" lengthAdjust="spacingAndGlyphs" style="stroke:none">40</text>
<line x1="213.50" y1="323.90" x2="216.50" y2="323.90" stroke="#aaa" stroke-width="0.8"/>
<text x="210.00" y="327.30" font-size="8.4" fill="#444" text-anchor="end" textLength="9.50" lengthAdjust="spacingAndGlyphs" style="stroke:none">50</text>
<line x1="216.50" y1="462.90" x2="333.30" y2="462.90" stroke="#8a8a8a" stroke-width="0.9"/>
<text x="220.40" y="327.00" font-size="8.6" fill="#231f20" textLength="107.4" lengthAdjust="spacingAndGlyphs">Kruskal–Wallis, <tspan font-style="italic">P</tspan> = 0.00022</text>
<text x="263.60" y="336.10" font-size="8.6" fill="#231f20" textLength="34.3" lengthAdjust="spacingAndGlyphs">3.1 × 10<tspan font-size="5.4" dy="-3.4">−5</tspan></text>
<path d="M238.30,341.50 L238.30,339.10 L312.10,339.10 L312.10,341.50" stroke="#8c8c8c" stroke-width="1.0" fill="none"/>
<text x="295.00" y="347.90" font-size="8.5" fill="#231f20" text-anchor="middle" textLength="23.40" lengthAdjust="spacingAndGlyphs">0.023</text>
<path d="M275.60,352.30 L275.60,349.90 L312.10,349.90 L312.10,352.30" stroke="#8c8c8c" stroke-width="1.0" fill="none"/>
<text x="258.60" y="358.60" font-size="8.5" fill="#231f20" text-anchor="middle" textLength="22.20" lengthAdjust="spacingAndGlyphs">0.021</text>
<path d="M238.30,363.50 L238.30,361.10 L275.60,361.10 L275.60,363.50" stroke="#8c8c8c" stroke-width="1.0" fill="none"/>
<line x1="216.50" y1="445.40" x2="334.80" y2="445.40" stroke="#222" stroke-width="0.8" stroke-dasharray="3 2.6"/>
<path d="M238.50,405.94 L275.50,401.64 L312.30,426.12" stroke="#c4c4c4" stroke-width="0.7" fill="none" opacity="1.0"/>
<path d="M238.50,447.37 L275.50,407.02 L312.30,388.19" stroke="#c4c4c4" stroke-width="0.7" fill="none" opacity="1.0"/>
<path d="M238.50,446.03 L312.30,365.06" stroke="#c4c4c4" stroke-width="0.7" fill="none" opacity="1.0"/>
<path d="M238.50,437.42 L275.50,425.31 L312.30,405.41" stroke="#c4c4c4" stroke-width="0.7" fill="none" opacity="1.0"/>
<path d="M238.50,439.57 L275.50,428.00 L312.30,412.40" stroke="#c4c4c4" stroke-width="0.7" fill="none" opacity="1.0"/>
<path d="M238.50,440.91 L275.50,431.23 L312.30,418.86" stroke="#c4c4c4" stroke-width="0.7" fill="none" opacity="1.0"/>
<path d="M238.50,442.26 L275.50,433.11 L312.30,420.47" stroke="#c4c4c4" stroke-width="0.7" fill="none" opacity="1.0"/>
<path d="M238.50,443.60 L275.50,436.07 L312.30,426.93" stroke="#c4c4c4" stroke-width="0.7" fill="none" opacity="1.0"/>
<path d="M238.50,444.95 L275.50,431.23 L312.30,419.66" stroke="#c4c4c4" stroke-width="0.7" fill="none" opacity="1.0"/>
<path d="M238.50,448.98 L275.50,433.11 L312.30,435.27" stroke="#c4c4c4" stroke-width="0.7" fill="none" opacity="1.0"/>
<path d="M238.50,449.52 L275.50,436.07 L312.30,436.34" stroke="#c4c4c4" stroke-width="0.7" fill="none" opacity="1.0"/>
<path d="M238.50,449.52 L275.50,440.38 L312.30,428.81" stroke="#c4c4c4" stroke-width="0.7" fill="none" opacity="1.0"/>
<path d="M238.50,453.56 L275.50,449.25 L312.30,436.34" stroke="#c4c4c4" stroke-width="0.7" fill="none" opacity="1.0"/>
<path d="M238.50,454.63 L275.50,450.87 L312.30,435.27" stroke="#c4c4c4" stroke-width="0.7" fill="none" opacity="1.0"/>
<path d="M238.50,455.71 L275.50,456.79 L312.30,442.80" stroke="#c4c4c4" stroke-width="0.7" fill="none" opacity="1.0"/>
<path d="M238.50,456.79 L275.50,440.38" stroke="#c4c4c4" stroke-width="0.7" fill="none" opacity="1.0"/>
<path d="M238.50,441.72 L275.50,428.00" stroke="#c4c4c4" stroke-width="0.7" fill="none" opacity="1.0"/>
<path d="M238.50,448.18 L275.50,436.07" stroke="#c4c4c4" stroke-width="0.7" fill="none" opacity="1.0"/>
<path d="M238.50,445.49 L275.50,436.07" stroke="#c4c4c4" stroke-width="0.7" fill="none" opacity="1.0"/>
<path d="M238.50,444.41 L275.50,431.23 L312.30,417.24" stroke="#c4c4c4" stroke-width="0.7" fill="none" opacity="1.0"/>
<path d="M238.50,446.56 L275.50,433.11 L312.30,411.86" stroke="#c4c4c4" stroke-width="0.7" fill="none" opacity="1.0"/>
<line x1="238.50" y1="437.42" x2="238.50" y2="440.51" stroke="#111" stroke-width="0.9"/>
<line x1="238.50" y1="451.67" x2="238.50" y2="456.79" stroke="#111" stroke-width="0.9"/>
<rect x="229.10" y="440.51" width="18.80" height="11.16" fill="#0d6d5a" stroke="#111" stroke-width="0.9" fill-opacity="1.0"/>
<line x1="229.10" y1="445.30" x2="247.90" y2="445.30" stroke="#111" stroke-width="1.9"/>
<line x1="275.50" y1="425.31" x2="275.50" y2="427.73" stroke="#111" stroke-width="0.9"/>
<line x1="275.50" y1="440.38" x2="275.50" y2="456.79" stroke="#111" stroke-width="0.9"/>
<rect x="266.10" y="427.73" width="18.80" height="12.64" fill="#f4605f" stroke="#111" stroke-width="0.9" fill-opacity="1.0"/>
<line x1="266.10" y1="435.40" x2="284.90" y2="435.40" stroke="#111" stroke-width="1.9"/>
<line x1="312.30" y1="388.19" x2="312.30" y2="411.86" stroke="#111" stroke-width="0.9"/>
<line x1="312.30" y1="428.54" x2="312.30" y2="442.80" stroke="#111" stroke-width="0.9"/>
<rect x="302.90" y="411.86" width="18.80" height="16.68" fill="#ffa502" stroke="#111" stroke-width="0.9" fill-opacity="1.0"/>
<line x1="302.90" y1="419.66" x2="321.70" y2="419.66" stroke="#111" stroke-width="1.9"/>
<path d="M238.50,405.94 L275.50,401.64 L312.30,426.12" stroke="#d8d8d8" stroke-width="0.55" fill="none" opacity="0.55"/>
<path d="M238.50,447.37 L275.50,407.02 L312.30,388.19" stroke="#d8d8d8" stroke-width="0.55" fill="none" opacity="0.55"/>
<path d="M238.50,446.03 L312.30,365.06" stroke="#d8d8d8" stroke-width="0.55" fill="none" opacity="0.55"/>
<path d="M238.50,437.42 L275.50,425.31 L312.30,405.41" stroke="#d8d8d8" stroke-width="0.55" fill="none" opacity="0.55"/>
<path d="M238.50,439.57 L275.50,428.00 L312.30,412.40" stroke="#d8d8d8" stroke-width="0.55" fill="none" opacity="0.55"/>
<path d="M238.50,440.91 L275.50,431.23 L312.30,418.86" stroke="#d8d8d8" stroke-width="0.55" fill="none" opacity="0.55"/>
<path d="M238.50,442.26 L275.50,433.11 L312.30,420.47" stroke="#d8d8d8" stroke-width="0.55" fill="none" opacity="0.55"/>
<path d="M238.50,443.60 L275.50,436.07 L312.30,426.93" stroke="#d8d8d8" stroke-width="0.55" fill="none" opacity="0.55"/>
<path d="M238.50,444.95 L275.50,431.23 L312.30,419.66" stroke="#d8d8d8" stroke-width="0.55" fill="none" opacity="0.55"/>
<path d="M238.50,448.98 L275.50,433.11 L312.30,435.27" stroke="#d8d8d8" stroke-width="0.55" fill="none" opacity="0.55"/>
<path d="M238.50,449.52 L275.50,436.07 L312.30,436.34" stroke="#d8d8d8" stroke-width="0.55" fill="none" opacity="0.55"/>
<path d="M238.50,449.52 L275.50,440.38 L312.30,428.81" stroke="#d8d8d8" stroke-width="0.55" fill="none" opacity="0.55"/>
<path d="M238.50,453.56 L275.50,449.25 L312.30,436.34" stroke="#d8d8d8" stroke-width="0.55" fill="none" opacity="0.55"/>
<path d="M238.50,454.63 L275.50,450.87 L312.30,435.27" stroke="#d8d8d8" stroke-width="0.55" fill="none" opacity="0.55"/>
<path d="M238.50,455.71 L275.50,456.79 L312.30,442.80" stroke="#d8d8d8" stroke-width="0.55" fill="none" opacity="0.55"/>
<path d="M238.50,456.79 L275.50,440.38" stroke="#d8d8d8" stroke-width="0.55" fill="none" opacity="0.55"/>
<path d="M238.50,441.72 L275.50,428.00" stroke="#d8d8d8" stroke-width="0.55" fill="none" opacity="0.55"/>
<path d="M238.50,448.18 L275.50,436.07" stroke="#d8d8d8" stroke-width="0.55" fill="none" opacity="0.55"/>
<path d="M238.50,445.49 L275.50,436.07" stroke="#d8d8d8" stroke-width="0.55" fill="none" opacity="0.55"/>
<path d="M238.50,444.41 L275.50,431.23 L312.30,417.24" stroke="#d8d8d8" stroke-width="0.55" fill="none" opacity="0.55"/>
<path d="M238.50,446.56 L275.50,433.11 L312.30,411.86" stroke="#d8d8d8" stroke-width="0.55" fill="none" opacity="0.55"/>
<circle cx="238.50" cy="405.94" r="1.60" fill="#000" stroke="none" stroke-width="0.5"/>
<circle cx="275.50" cy="401.64" r="1.60" fill="#000" stroke="none" stroke-width="0.5"/>
<circle cx="312.30" cy="426.12" r="1.60" fill="#000" stroke="none" stroke-width="0.5"/>
<circle cx="238.50" cy="447.37" r="1.60" fill="#000" stroke="none" stroke-width="0.5"/>
<circle cx="275.50" cy="407.02" r="1.60" fill="#000" stroke="none" stroke-width="0.5"/>
<circle cx="312.30" cy="388.19" r="1.60" fill="#000" stroke="none" stroke-width="0.5"/>
<circle cx="238.50" cy="446.03" r="1.60" fill="#000" stroke="none" stroke-width="0.5"/>
<circle cx="312.30" cy="365.06" r="1.60" fill="#000" stroke="none" stroke-width="0.5"/>
<circle cx="238.50" cy="437.42" r="1.60" fill="#000" stroke="none" stroke-width="0.5"/>
<circle cx="275.50" cy="425.31" r="1.60" fill="#000" stroke="none" stroke-width="0.5"/>
<circle cx="312.30" cy="405.41" r="1.60" fill="#000" stroke="none" stroke-width="0.5"/>
<circle cx="238.50" cy="439.57" r="1.60" fill="#000" stroke="none" stroke-width="0.5"/>
<circle cx="275.50" cy="428.00" r="1.60" fill="#000" stroke="none" stroke-width="0.5"/>
<circle cx="312.30" cy="412.40" r="1.60" fill="#000" stroke="none" stroke-width="0.5"/>
<circle cx="238.50" cy="440.91" r="1.60" fill="#000" stroke="none" stroke-width="0.5"/>
<circle cx="275.50" cy="431.23" r="1.60" fill="#000" stroke="none" stroke-width="0.5"/>
<circle cx="312.30" cy="418.86" r="1.60" fill="#000" stroke="none" stroke-width="0.5"/>
<circle cx="238.50" cy="442.26" r="1.60" fill="#000" stroke="none" stroke-width="0.5"/>
<circle cx="275.50" cy="433.11" r="1.60" fill="#000" stroke="none" stroke-width="0.5"/>
<circle cx="312.30" cy="420.47" r="1.60" fill="#000" stroke="none" stroke-width="0.5"/>
<circle cx="238.50" cy="443.60" r="1.60" fill="#000" stroke="none" stroke-width="0.5"/>
<circle cx="275.50" cy="436.07" r="1.60" fill="#000" stroke="none" stroke-width="0.5"/>
<circle cx="312.30" cy="426.93" r="1.60" fill="#000" stroke="none" stroke-width="0.5"/>
<circle cx="238.50" cy="444.95" r="1.60" fill="#000" stroke="none" stroke-width="0.5"/>
<circle cx="275.50" cy="431.23" r="1.60" fill="#000" stroke="none" stroke-width="0.5"/>
<circle cx="312.30" cy="419.66" r="1.60" fill="#000" stroke="none" stroke-width="0.5"/>
<circle cx="238.50" cy="448.98" r="1.60" fill="#000" stroke="none" stroke-width="0.5"/>
<circle cx="275.50" cy="433.11" r="1.60" fill="#000" stroke="none" stroke-width="0.5"/>
<circle cx="312.30" cy="435.27" r="1.60" fill="#000" stroke="none" stroke-width="0.5"/>
<circle cx="238.50" cy="449.52" r="1.60" fill="#000" stroke="none" stroke-width="0.5"/>
<circle cx="275.50" cy="436.07" r="1.60" fill="#000" stroke="none" stroke-width="0.5"/>
<circle cx="312.30" cy="436.34" r="1.60" fill="#000" stroke="none" stroke-width="0.5"/>
<circle cx="238.50" cy="449.52" r="1.60" fill="#000" stroke="none" stroke-width="0.5"/>
<circle cx="275.50" cy="440.38" r="1.60" fill="#000" stroke="none" stroke-width="0.5"/>
<circle cx="312.30" cy="428.81" r="1.60" fill="#000" stroke="none" stroke-width="0.5"/>
<circle cx="238.50" cy="453.56" r="1.60" fill="#000" stroke="none" stroke-width="0.5"/>
<circle cx="275.50" cy="449.25" r="1.60" fill="#000" stroke="none" stroke-width="0.5"/>
<circle cx="312.30" cy="436.34" r="1.60" fill="#000" stroke="none" stroke-width="0.5"/>
<circle cx="238.50" cy="454.63" r="1.60" fill="#000" stroke="none" stroke-width="0.5"/>
<circle cx="275.50" cy="450.87" r="1.60" fill="#000" stroke="none" stroke-width="0.5"/>
<circle cx="312.30" cy="435.27" r="1.60" fill="#000" stroke="none" stroke-width="0.5"/>
<circle cx="238.50" cy="455.71" r="1.60" fill="#000" stroke="none" stroke-width="0.5"/>
<circle cx="275.50" cy="456.79" r="1.60" fill="#000" stroke="none" stroke-width="0.5"/>
<circle cx="312.30" cy="442.80" r="1.60" fill="#000" stroke="none" stroke-width="0.5"/>
<circle cx="238.50" cy="456.79" r="1.60" fill="#000" stroke="none" stroke-width="0.5"/>
<circle cx="275.50" cy="440.38" r="1.60" fill="#000" stroke="none" stroke-width="0.5"/>
<circle cx="238.50" cy="441.72" r="1.60" fill="#000" stroke="none" stroke-width="0.5"/>
<circle cx="275.50" cy="428.00" r="1.60" fill="#000" stroke="none" stroke-width="0.5"/>
<circle cx="275.50" cy="433.11" r="1.60" fill="#000" stroke="none" stroke-width="0.5"/>
<circle cx="238.50" cy="448.18" r="1.60" fill="#000" stroke="none" stroke-width="0.5"/>
<circle cx="275.50" cy="436.07" r="1.60" fill="#000" stroke="none" stroke-width="0.5"/>
<circle cx="238.50" cy="445.49" r="1.60" fill="#000" stroke="none" stroke-width="0.5"/>
<circle cx="275.50" cy="436.07" r="1.60" fill="#000" stroke="none" stroke-width="0.5"/>
<circle cx="238.50" cy="444.41" r="1.60" fill="#000" stroke="none" stroke-width="0.5"/>
<circle cx="275.50" cy="431.23" r="1.60" fill="#000" stroke="none" stroke-width="0.5"/>
<circle cx="312.30" cy="417.24" r="1.60" fill="#000" stroke="none" stroke-width="0.5"/>
<circle cx="238.50" cy="446.56" r="1.60" fill="#000" stroke="none" stroke-width="0.5"/>
<circle cx="275.50" cy="433.11" r="1.60" fill="#000" stroke="none" stroke-width="0.5"/>
<circle cx="312.30" cy="411.86" r="1.60" fill="#000" stroke="none" stroke-width="0.5"/>
<text x="239.50" y="474.80" font-size="8.3" fill="#231f20" text-anchor="middle">HHP</text>
<text x="276.50" y="474.80" font-size="8.3" fill="#231f20" text-anchor="middle">Remission</text>
<text x="313.30" y="474.80" font-size="8.3" fill="#231f20" text-anchor="middle">Flare</text>
<text x="194.40" y="392.20" font-size="8.6" fill="#3a3a3a" text-anchor="middle" transform="rotate(-90 194.40 392.20)" style="stroke:none" textLength="96.00" lengthAdjust="spacingAndGlyphs">Culture ethanol (mg dl<tspan font-size="5.33" dy="-3.4" dx="0.5">−1</tspan><tspan dy="3.4">)</tspan></text>
<line x1="386.70" y1="320.70" x2="386.70" y2="463.40" stroke="#9a9a9a" stroke-width="0.9"/>
<line x1="383.70" y1="459.30" x2="386.70" y2="459.30" stroke="#aaa" stroke-width="0.8"/>
<text x="380.20" y="462.70" font-size="8.4" fill="#444" text-anchor="end" textLength="4.75" lengthAdjust="spacingAndGlyphs" style="stroke:none">0</text>
<line x1="383.70" y1="421.00" x2="386.70" y2="421.00" stroke="#aaa" stroke-width="0.8"/>
<text x="380.20" y="424.40" font-size="8.4" fill="#444" text-anchor="end" textLength="9.50" lengthAdjust="spacingAndGlyphs" style="stroke:none">10</text>
<line x1="383.70" y1="382.70" x2="386.70" y2="382.70" stroke="#aaa" stroke-width="0.8"/>
<text x="380.20" y="386.10" font-size="8.4" fill="#444" text-anchor="end" textLength="9.50" lengthAdjust="spacingAndGlyphs" style="stroke:none">20</text>
<line x1="383.70" y1="344.40" x2="386.70" y2="344.40" stroke="#aaa" stroke-width="0.8"/>
<text x="380.20" y="347.80" font-size="8.4" fill="#444" text-anchor="end" textLength="9.50" lengthAdjust="spacingAndGlyphs" style="stroke:none">30</text>
<line x1="386.70" y1="463.30" x2="551.50" y2="463.30" stroke="#8a8a8a" stroke-width="0.9"/>
<line x1="393.70" y1="463.30" x2="393.70" y2="466.30" stroke="#8a8a8a" stroke-width="0.8"/>
<text x="393.70" y="475.80" font-size="8.4" fill="#444" text-anchor="middle" textLength="4.75" lengthAdjust="spacingAndGlyphs" style="stroke:none">0</text>
<line x1="423.70" y1="463.30" x2="423.70" y2="466.30" stroke="#8a8a8a" stroke-width="0.8"/>
<text x="423.70" y="475.80" font-size="8.4" fill="#444" text-anchor="middle" textLength="9.50" lengthAdjust="spacingAndGlyphs" style="stroke:none">50</text>
<line x1="453.70" y1="463.30" x2="453.70" y2="466.30" stroke="#8a8a8a" stroke-width="0.8"/>
<text x="453.70" y="475.80" font-size="8.4" fill="#444" text-anchor="middle" textLength="14.25" lengthAdjust="spacingAndGlyphs" style="stroke:none">100</text>
<line x1="483.70" y1="463.30" x2="483.70" y2="466.30" stroke="#8a8a8a" stroke-width="0.8"/>
<text x="483.70" y="475.80" font-size="8.4" fill="#444" text-anchor="middle" textLength="14.25" lengthAdjust="spacingAndGlyphs" style="stroke:none">150</text>
<line x1="513.70" y1="463.30" x2="513.70" y2="466.30" stroke="#8a8a8a" stroke-width="0.8"/>
<text x="513.70" y="475.80" font-size="8.4" fill="#444" text-anchor="middle" textLength="14.25" lengthAdjust="spacingAndGlyphs" style="stroke:none">200</text>
<line x1="543.70" y1="463.30" x2="543.70" y2="466.30" stroke="#8a8a8a" stroke-width="0.8"/>
<text x="543.70" y="475.80" font-size="8.4" fill="#444" text-anchor="middle" textLength="14.25" lengthAdjust="spacingAndGlyphs" style="stroke:none">250</text>
<text x="395.7" y="488.7" font-size="8.5" fill="#231f20" textLength="145.7" lengthAdjust="spacingAndGlyphs">Blood alcohol concentration (mg dl<tspan font-size="5.3" dy="-3.4" dx="0.5">−1</tspan><tspan dy="3.4">)</tspan></text>
<text x="355.7" y="450.6" font-size="8.6" fill="#3a3a3a" style="stroke:none" textLength="121.4" lengthAdjust="spacingAndGlyphs" transform="rotate(-90 355.7 450.6)">Culture ethanol at 24 h (mg dl<tspan font-size="5.3" dy="-3.4" dx="0.5">−1</tspan><tspan dy="3.4">)</tspan></text>
<text x="394.8" y="330.9" font-size="8.5" fill="#231f20" textLength="78.6" lengthAdjust="spacingAndGlyphs"><tspan font-style="italic">R</tspan> = 0.63, <tspan font-style="italic">P</tspan> = 2 × 10<tspan font-size="5.4" dy="-3.4">−5</tspan></text>
<circle cx="393.70" cy="457.77" r="1.90" fill="#000" stroke="none" stroke-width="0.5"/>
<circle cx="393.70" cy="456.24" r="1.90" fill="#000" stroke="none" stroke-width="0.5"/>
<circle cx="393.70" cy="454.70" r="1.90" fill="#000" stroke="none" stroke-width="0.5"/>
<circle cx="393.70" cy="453.17" r="1.90" fill="#000" stroke="none" stroke-width="0.5"/>
<circle cx="393.70" cy="451.64" r="1.90" fill="#000" stroke="none" stroke-width="0.5"/>
<circle cx="393.70" cy="449.73" r="1.90" fill="#000" stroke="none" stroke-width="0.5"/>
<circle cx="393.70" cy="447.81" r="1.90" fill="#000" stroke="none" stroke-width="0.5"/>
<circle cx="393.70" cy="445.89" r="1.90" fill="#000" stroke="none" stroke-width="0.5"/>
<circle cx="393.70" cy="443.98" r="1.90" fill="#000" stroke="none" stroke-width="0.5"/>
<circle cx="393.70" cy="441.68" r="1.90" fill="#000" stroke="none" stroke-width="0.5"/>
<circle cx="393.70" cy="432.49" r="1.90" fill="#000" stroke="none" stroke-width="0.5"/>
<circle cx="393.70" cy="430.57" r="1.90" fill="#000" stroke="none" stroke-width="0.5"/>
<circle cx="393.70" cy="428.66" r="1.90" fill="#000" stroke="none" stroke-width="0.5"/>
<circle cx="393.70" cy="426.75" r="1.90" fill="#000" stroke="none" stroke-width="0.5"/>
<circle cx="393.70" cy="424.83" r="1.90" fill="#000" stroke="none" stroke-width="0.5"/>
<circle cx="393.70" cy="421.00" r="1.90" fill="#000" stroke="none" stroke-width="0.5"/>
<circle cx="393.70" cy="415.25" r="1.90" fill="#000" stroke="none" stroke-width="0.5"/>
<circle cx="393.70" cy="411.81" r="1.90" fill="#000" stroke="none" stroke-width="0.5"/>
<circle cx="393.70" cy="378.87" r="1.90" fill="#000" stroke="none" stroke-width="0.5"/>
<circle cx="405.70" cy="401.85" r="1.90" fill="#000" stroke="none" stroke-width="0.5"/>
<circle cx="417.70" cy="413.34" r="1.90" fill="#000" stroke="none" stroke-width="0.5"/>
<circle cx="411.70" cy="428.28" r="1.90" fill="#000" stroke="none" stroke-width="0.5"/>
<circle cx="429.70" cy="417.17" r="1.90" fill="#000" stroke="none" stroke-width="0.5"/>
<circle cx="465.10" cy="403.76" r="1.90" fill="#000" stroke="none" stroke-width="0.5"/>
<circle cx="466.30" cy="404.91" r="1.90" fill="#000" stroke="none" stroke-width="0.5"/>
<circle cx="469.90" cy="425.60" r="1.90" fill="#000" stroke="none" stroke-width="0.5"/>
<circle cx="471.70" cy="436.70" r="1.90" fill="#000" stroke="none" stroke-width="0.5"/>
<circle cx="492.70" cy="393.42" r="1.90" fill="#000" stroke="none" stroke-width="0.5"/>
<circle cx="496.30" cy="393.04" r="1.90" fill="#000" stroke="none" stroke-width="0.5"/>
<circle cx="516.70" cy="326.78" r="1.90" fill="#000" stroke="none" stroke-width="0.5"/>
<circle cx="526.30" cy="416.02" r="1.90" fill="#000" stroke="none" stroke-width="0.5"/>
<circle cx="532.30" cy="358.95" r="1.90" fill="#000" stroke="none" stroke-width="0.5"/>
<circle cx="544.30" cy="383.85" r="1.90" fill="#000" stroke="none" stroke-width="0.5"/>
<path d="M393.70,424.59 L398.74,423.11 L403.78,421.59 L408.82,420.01 L413.86,418.36 L418.90,416.64 L423.94,414.83 L428.98,412.93 L434.02,410.93 L439.06,408.83 L444.10,406.65 L449.14,404.39 L454.18,402.06 L459.22,399.67 L464.26,397.22 L469.30,394.74 L474.34,392.22 L479.38,389.68 L484.42,387.11 L489.46,384.52 L494.50,381.91 L499.54,379.29 L504.58,376.66 L509.62,374.02 L514.66,371.37 L519.70,368.71 L524.74,366.05 L529.78,363.38 L534.82,360.71 L539.86,358.03 L544.90,355.35 L544.90,392.13 L539.86,393.38 L534.82,394.63 L529.78,395.88 L524.74,397.15 L519.70,398.41 L514.66,399.68 L509.62,400.96 L504.58,402.25 L499.54,403.55 L494.50,404.86 L489.46,406.18 L484.42,407.52 L479.38,408.88 L474.34,410.27 L469.30,411.68 L464.26,413.12 L459.22,414.61 L454.18,416.15 L449.14,417.75 L444.10,419.42 L439.06,421.16 L434.02,423.00 L428.98,424.93 L423.94,426.96 L418.90,429.08 L413.86,431.28 L408.82,433.56 L403.78,435.91 L398.74,438.32 L393.70,440.78 Z" fill="#c4c4c4" fill-opacity="0.33"/>
<line x1="393.70" y1="432.68" x2="544.90" y2="373.74" stroke="#111" stroke-width="1.5"/>
<line x1="29.60" y1="524.20" x2="29.60" y2="669.00" stroke="#9a9a9a" stroke-width="0.9"/>
<line x1="26.60" y1="663.25" x2="29.60" y2="663.25" stroke="#aaa" stroke-width="0.8"/>
<text x="23.10" y="666.65" font-size="8.4" fill="#444" text-anchor="end" textLength="4.75" lengthAdjust="spacingAndGlyphs" style="stroke:none">0</text>
<line x1="26.60" y1="632.51" x2="29.60" y2="632.51" stroke="#aaa" stroke-width="0.8"/>
<text x="23.10" y="635.91" font-size="8.4" fill="#444" text-anchor="end" textLength="9.50" lengthAdjust="spacingAndGlyphs" style="stroke:none">10</text>
<line x1="26.60" y1="601.77" x2="29.60" y2="601.77" stroke="#aaa" stroke-width="0.8"/>
<text x="23.10" y="605.17" font-size="8.4" fill="#444" text-anchor="end" textLength="9.50" lengthAdjust="spacingAndGlyphs" style="stroke:none">20</text>
<line x1="26.60" y1="571.03" x2="29.60" y2="571.03" stroke="#aaa" stroke-width="0.8"/>
<text x="23.10" y="574.43" font-size="8.4" fill="#444" text-anchor="end" textLength="9.50" lengthAdjust="spacingAndGlyphs" style="stroke:none">30</text>
<line x1="26.60" y1="540.29" x2="29.60" y2="540.29" stroke="#aaa" stroke-width="0.8"/>
<text x="23.10" y="543.69" font-size="8.4" fill="#444" text-anchor="end" textLength="9.50" lengthAdjust="spacingAndGlyphs" style="stroke:none">40</text>
<line x1="29.60" y1="668.80" x2="153.90" y2="668.80" stroke="#8a8a8a" stroke-width="0.9"/>
<text x="91.80" y="516.50" font-size="8.4" fill="#231f20" text-anchor="middle" textLength="16.00" lengthAdjust="spacingAndGlyphs">HHP</text>
<text x="47.10" y="529.4" font-size="8.5" fill="#231f20" textLength="89.30" lengthAdjust="spacingAndGlyphs">Kruskal–Wallis, <tspan font-style="italic">P</tspan> = 0.19</text>
<text x="8.20" y="596.70" font-size="8.6" fill="#3a3a3a" text-anchor="middle" transform="rotate(-90 8.20 596.70)" style="stroke:none" textLength="96.50" lengthAdjust="spacingAndGlyphs">Culture ethanol (mg dl<tspan font-size="5.33" dy="-3.4" dx="0.5">−1</tspan><tspan dy="3.4">)</tspan></text>
<line x1="29.60" y1="647.50" x2="152.60" y2="647.50" stroke="#222" stroke-width="0.8" stroke-dasharray="3 2.6"/>
<path d="M53.60,627.28 L92.40,646.34 L131.00,660.18" stroke="#c8c8c8" stroke-width="0.6" fill="none"/>
<path d="M53.60,640.20 L92.40,634.97 L131.00,661.71" stroke="#c8c8c8" stroke-width="0.6" fill="none"/>
<path d="M53.60,646.34 L92.40,649.42 L131.00,644.81" stroke="#c8c8c8" stroke-width="0.6" fill="none"/>
<path d="M53.60,649.11 L92.40,647.27 L131.00,658.64" stroke="#c8c8c8" stroke-width="0.6" fill="none"/>
<path d="M53.60,654.03 L92.40,650.95 L131.00,660.79" stroke="#c8c8c8" stroke-width="0.6" fill="none"/>
<path d="M53.60,660.18 L92.40,652.80 L131.00,662.33" stroke="#c8c8c8" stroke-width="0.6" fill="none"/>
<path d="M53.60,662.33 L92.40,657.10 L131.00,659.87" stroke="#c8c8c8" stroke-width="0.6" fill="none"/>
<path d="M53.60,663.25 L92.40,660.18 L131.00,646.96" stroke="#c8c8c8" stroke-width="0.6" fill="none"/>
<path d="M53.60,652.49 L92.40,643.27 L131.00,661.71" stroke="#c8c8c8" stroke-width="0.6" fill="none"/>
<path d="M53.60,655.57 L92.40,644.81 L131.00,660.79" stroke="#c8c8c8" stroke-width="0.6" fill="none"/>
<path d="M53.60,663.25 L92.40,649.42 L131.00,660.18" stroke="#c8c8c8" stroke-width="0.6" fill="none"/>
<line x1="53.60" y1="627.28" x2="53.60" y2="644.50" stroke="#111" stroke-width="0.9"/>
<line x1="53.60" y1="660.61" x2="53.60" y2="663.25" stroke="#111" stroke-width="0.9"/>
<rect x="43.85" y="644.50" width="19.50" height="16.11" fill="#0d6d5a" stroke="#111" stroke-width="0.9" fill-opacity="1.0"/>
<line x1="43.85" y1="652.61" x2="63.35" y2="652.61" stroke="#111" stroke-width="1.9"/>
<line x1="92.40" y1="634.97" x2="92.40" y2="646.19" stroke="#111" stroke-width="0.9"/>
<line x1="92.40" y1="652.00" x2="92.40" y2="663.25" stroke="#111" stroke-width="0.9"/>
<rect x="82.65" y="646.19" width="19.50" height="5.81" fill="#0d6d5a" stroke="#111" stroke-width="0.9" fill-opacity="1.0"/>
<line x1="82.65" y1="648.89" x2="102.15" y2="648.89" stroke="#111" stroke-width="1.9"/>
<line x1="131.00" y1="644.81" x2="131.00" y2="651.26" stroke="#111" stroke-width="0.9"/>
<line x1="131.00" y1="661.19" x2="131.00" y2="663.25" stroke="#111" stroke-width="0.9"/>
<rect x="121.25" y="651.26" width="19.50" height="9.93" fill="#0d6d5a" stroke="#111" stroke-width="0.9" fill-opacity="1.0"/>
<line x1="121.25" y1="660.79" x2="140.75" y2="660.79" stroke="#111" stroke-width="1.9"/>
<path d="M53.60,627.28 L92.40,646.34 L131.00,660.18" stroke="#d8d8d8" stroke-width="0.5" fill="none" opacity="0.8"/>
<path d="M53.60,640.20 L92.40,634.97 L131.00,661.71" stroke="#d8d8d8" stroke-width="0.5" fill="none" opacity="0.8"/>
<path d="M53.60,646.34 L92.40,649.42 L131.00,644.81" stroke="#d8d8d8" stroke-width="0.5" fill="none" opacity="0.8"/>
<path d="M53.60,649.11 L92.40,647.27 L131.00,658.64" stroke="#d8d8d8" stroke-width="0.5" fill="none" opacity="0.8"/>
<path d="M53.60,654.03 L92.40,650.95 L131.00,660.79" stroke="#d8d8d8" stroke-width="0.5" fill="none" opacity="0.8"/>
<path d="M53.60,660.18 L92.40,652.80 L131.00,662.33" stroke="#d8d8d8" stroke-width="0.5" fill="none" opacity="0.8"/>
<path d="M53.60,662.33 L92.40,657.10 L131.00,659.87" stroke="#d8d8d8" stroke-width="0.5" fill="none" opacity="0.8"/>
<path d="M53.60,663.25 L92.40,660.18 L131.00,646.96" stroke="#d8d8d8" stroke-width="0.5" fill="none" opacity="0.8"/>
<path d="M53.60,652.49 L92.40,643.27 L131.00,661.71" stroke="#d8d8d8" stroke-width="0.5" fill="none" opacity="0.8"/>
<path d="M53.60,655.57 L92.40,644.81 L131.00,660.79" stroke="#d8d8d8" stroke-width="0.5" fill="none" opacity="0.8"/>
<path d="M53.60,663.25 L92.40,649.42 L131.00,660.18" stroke="#d8d8d8" stroke-width="0.5" fill="none" opacity="0.8"/>
<circle cx="53.60" cy="663.25" r="1.50" fill="#000" stroke="none" stroke-width="0.5"/>
<circle cx="53.60" cy="662.33" r="1.50" fill="#000" stroke="none" stroke-width="0.5"/>
<circle cx="53.60" cy="660.18" r="1.50" fill="#000" stroke="none" stroke-width="0.5"/>
<circle cx="53.60" cy="655.57" r="1.50" fill="#000" stroke="none" stroke-width="0.5"/>
<circle cx="53.60" cy="654.03" r="1.50" fill="#000" stroke="none" stroke-width="0.5"/>
<circle cx="53.60" cy="652.49" r="1.50" fill="#000" stroke="none" stroke-width="0.5"/>
<circle cx="53.60" cy="649.11" r="1.50" fill="#000" stroke="none" stroke-width="0.5"/>
<circle cx="53.60" cy="646.34" r="1.50" fill="#000" stroke="none" stroke-width="0.5"/>
<circle cx="53.60" cy="640.20" r="1.50" fill="#000" stroke="none" stroke-width="0.5"/>
<circle cx="53.60" cy="627.28" r="1.50" fill="#000" stroke="none" stroke-width="0.5"/>
<circle cx="92.40" cy="663.25" r="1.50" fill="#000" stroke="none" stroke-width="0.5"/>
<circle cx="92.40" cy="660.18" r="1.50" fill="#000" stroke="none" stroke-width="0.5"/>
<circle cx="92.40" cy="657.10" r="1.50" fill="#000" stroke="none" stroke-width="0.5"/>
<circle cx="92.40" cy="652.80" r="1.50" fill="#000" stroke="none" stroke-width="0.5"/>
<circle cx="92.40" cy="650.95" r="1.50" fill="#000" stroke="none" stroke-width="0.5"/>
<circle cx="92.40" cy="649.42" r="1.50" fill="#000" stroke="none" stroke-width="0.5"/>
<circle cx="92.40" cy="647.27" r="1.50" fill="#000" stroke="none" stroke-width="0.5"/>
<circle cx="92.40" cy="644.81" r="1.50" fill="#000" stroke="none" stroke-width="0.5"/>
<circle cx="92.40" cy="643.27" r="1.50" fill="#000" stroke="none" stroke-width="0.5"/>
<circle cx="92.40" cy="634.97" r="1.50" fill="#000" stroke="none" stroke-width="0.5"/>
<circle cx="131.00" cy="662.33" r="1.50" fill="#000" stroke="none" stroke-width="0.5"/>
<circle cx="131.00" cy="661.71" r="1.50" fill="#000" stroke="none" stroke-width="0.5"/>
<circle cx="131.00" cy="660.79" r="1.50" fill="#000" stroke="none" stroke-width="0.5"/>
<circle cx="131.00" cy="659.87" r="1.50" fill="#000" stroke="none" stroke-width="0.5"/>
<circle cx="131.00" cy="658.64" r="1.50" fill="#000" stroke="none" stroke-width="0.5"/>
<circle cx="131.00" cy="646.96" r="1.50" fill="#000" stroke="none" stroke-width="0.5"/>
<circle cx="131.00" cy="644.81" r="1.50" fill="#000" stroke="none" stroke-width="0.5"/>
<text x="52.85" y="680.00" font-size="8.5" fill="#231f20" text-anchor="middle" textLength="24.90" lengthAdjust="spacingAndGlyphs">DMSO</text>
<text x="92.90" y="680.00" font-size="8.5" fill="#231f20" text-anchor="middle" textLength="23.60" lengthAdjust="spacingAndGlyphs">AmpB</text>
<text x="130.60" y="680.00" font-size="8.5" fill="#231f20" text-anchor="middle" textLength="33.20" lengthAdjust="spacingAndGlyphs">Chloram</text>
<line x1="205.90" y1="524.20" x2="205.90" y2="669.00" stroke="#9a9a9a" stroke-width="0.9"/>
<line x1="202.90" y1="663.25" x2="205.90" y2="663.25" stroke="#aaa" stroke-width="0.8"/>
<text x="199.40" y="666.65" font-size="8.4" fill="#444" text-anchor="end" textLength="4.75" lengthAdjust="spacingAndGlyphs" style="stroke:none">0</text>
<line x1="202.90" y1="632.51" x2="205.90" y2="632.51" stroke="#aaa" stroke-width="0.8"/>
<text x="199.40" y="635.91" font-size="8.4" fill="#444" text-anchor="end" textLength="9.50" lengthAdjust="spacingAndGlyphs" style="stroke:none">10</text>
<line x1="202.90" y1="601.77" x2="205.90" y2="601.77" stroke="#aaa" stroke-width="0.8"/>
<text x="199.40" y="605.17" font-size="8.4" fill="#444" text-anchor="end" textLength="9.50" lengthAdjust="spacingAndGlyphs" style="stroke:none">20</text>
<line x1="202.90" y1="571.03" x2="205.90" y2="571.03" stroke="#aaa" stroke-width="0.8"/>
<text x="199.40" y="574.43" font-size="8.4" fill="#444" text-anchor="end" textLength="9.50" lengthAdjust="spacingAndGlyphs" style="stroke:none">30</text>
<line x1="202.90" y1="540.29" x2="205.90" y2="540.29" stroke="#aaa" stroke-width="0.8"/>
<text x="199.40" y="543.69" font-size="8.4" fill="#444" text-anchor="end" textLength="9.50" lengthAdjust="spacingAndGlyphs" style="stroke:none">40</text>
<line x1="205.90" y1="668.80" x2="330.20" y2="668.80" stroke="#8a8a8a" stroke-width="0.9"/>
<text x="267.60" y="516.50" font-size="8.4" fill="#231f20" text-anchor="middle" textLength="38.40" lengthAdjust="spacingAndGlyphs">Remission</text>
<text x="221.90" y="529.4" font-size="8.5" fill="#231f20" textLength="91.50" lengthAdjust="spacingAndGlyphs">Kruskal–Wallis, <tspan font-style="italic">P</tspan> = 0.03</text>
<text x="184.60" y="596.70" font-size="8.6" fill="#3a3a3a" text-anchor="middle" transform="rotate(-90 184.60 596.70)" style="stroke:none" textLength="96.50" lengthAdjust="spacingAndGlyphs">Culture ethanol (mg dl<tspan font-size="5.33" dy="-3.4" dx="0.5">−1</tspan><tspan dy="3.4">)</tspan></text>
<line x1="205.90" y1="647.50" x2="328.90" y2="647.50" stroke="#222" stroke-width="0.8" stroke-dasharray="3 2.6"/>
<path d="M228.10,622.06 L267.00,654.03 L305.80,662.33" stroke="#c8c8c8" stroke-width="0.6" fill="none"/>
<path d="M228.10,637.12 L267.00,640.20 L305.80,662.02" stroke="#c8c8c8" stroke-width="0.6" fill="none"/>
<path d="M228.10,642.96 L267.00,638.04 L305.80,651.57" stroke="#c8c8c8" stroke-width="0.6" fill="none"/>
<path d="M228.10,654.64 L267.00,647.88 L305.80,662.33" stroke="#c8c8c8" stroke-width="0.6" fill="none"/>
<path d="M228.10,662.33 L267.00,662.64 L305.80,662.02" stroke="#c8c8c8" stroke-width="0.6" fill="none"/>
<path d="M228.10,642.96 L267.00,641.73 L305.80,661.71" stroke="#c8c8c8" stroke-width="0.6" fill="none"/>
<line x1="228.10" y1="622.06" x2="228.10" y2="642.35" stroke="#111" stroke-width="0.9"/>
<line x1="228.10" y1="661.71" x2="228.10" y2="663.25" stroke="#111" stroke-width="0.9"/>
<rect x="218.35" y="642.35" width="19.50" height="19.37" fill="#f4605f" stroke="#111" stroke-width="0.9" fill-opacity="1.0"/>
<line x1="218.35" y1="642.96" x2="237.85" y2="642.96" stroke="#111" stroke-width="1.9"/>
<line x1="267.00" y1="638.04" x2="267.00" y2="641.42" stroke="#111" stroke-width="0.9"/>
<line x1="267.00" y1="654.95" x2="267.00" y2="663.25" stroke="#111" stroke-width="0.9"/>
<rect x="257.25" y="641.42" width="19.50" height="13.53" fill="#f4605f" stroke="#111" stroke-width="0.9" fill-opacity="1.0"/>
<line x1="257.25" y1="651.57" x2="276.75" y2="651.57" stroke="#111" stroke-width="1.9"/>
<line x1="305.80" y1="661.71" x2="305.80" y2="661.87" stroke="#111" stroke-width="0.9"/>
<line x1="305.80" y1="662.33" x2="305.80" y2="663.25" stroke="#111" stroke-width="0.9"/>
<rect x="296.05" y="661.87" width="19.50" height="0.46" fill="#f4605f" stroke="#111" stroke-width="0.9" fill-opacity="1.0"/>
<line x1="296.05" y1="662.17" x2="315.55" y2="662.17" stroke="#111" stroke-width="1.9"/>
<path d="M228.10,622.06 L267.00,654.03 L305.80,662.33" stroke="#d8d8d8" stroke-width="0.5" fill="none" opacity="0.8"/>
<path d="M228.10,637.12 L267.00,640.20 L305.80,662.02" stroke="#d8d8d8" stroke-width="0.5" fill="none" opacity="0.8"/>
<path d="M228.10,642.96 L267.00,638.04 L305.80,651.57" stroke="#d8d8d8" stroke-width="0.5" fill="none" opacity="0.8"/>
<path d="M228.10,654.64 L267.00,647.88 L305.80,662.33" stroke="#d8d8d8" stroke-width="0.5" fill="none" opacity="0.8"/>
<path d="M228.10,662.33 L267.00,662.64 L305.80,662.02" stroke="#d8d8d8" stroke-width="0.5" fill="none" opacity="0.8"/>
<path d="M228.10,642.96 L267.00,641.73 L305.80,661.71" stroke="#d8d8d8" stroke-width="0.5" fill="none" opacity="0.8"/>
<circle cx="228.10" cy="662.33" r="1.50" fill="#000" stroke="none" stroke-width="0.5"/>
<circle cx="228.10" cy="654.64" r="1.50" fill="#000" stroke="none" stroke-width="0.5"/>
<circle cx="228.10" cy="642.96" r="1.50" fill="#000" stroke="none" stroke-width="0.5"/>
<circle cx="228.10" cy="637.12" r="1.50" fill="#000" stroke="none" stroke-width="0.5"/>
<circle cx="228.10" cy="622.06" r="1.50" fill="#000" stroke="none" stroke-width="0.5"/>
<circle cx="267.00" cy="662.64" r="1.50" fill="#000" stroke="none" stroke-width="0.5"/>
<circle cx="267.00" cy="654.03" r="1.50" fill="#000" stroke="none" stroke-width="0.5"/>
<circle cx="267.00" cy="650.95" r="1.50" fill="#000" stroke="none" stroke-width="0.5"/>
<circle cx="267.00" cy="647.88" r="1.50" fill="#000" stroke="none" stroke-width="0.5"/>
<circle cx="267.00" cy="644.81" r="1.50" fill="#000" stroke="none" stroke-width="0.5"/>
<circle cx="267.00" cy="641.73" r="1.50" fill="#000" stroke="none" stroke-width="0.5"/>
<circle cx="267.00" cy="640.20" r="1.50" fill="#000" stroke="none" stroke-width="0.5"/>
<circle cx="267.00" cy="638.04" r="1.50" fill="#000" stroke="none" stroke-width="0.5"/>
<circle cx="305.80" cy="662.33" r="1.50" fill="#000" stroke="none" stroke-width="0.5"/>
<circle cx="305.80" cy="662.02" r="1.50" fill="#000" stroke="none" stroke-width="0.5"/>
<circle cx="305.80" cy="661.71" r="1.50" fill="#000" stroke="none" stroke-width="0.5"/>
<circle cx="305.80" cy="651.57" r="1.50" fill="#000" stroke="none" stroke-width="0.5"/>
<line x1="227.80" y1="584.10" x2="306.10" y2="584.10" stroke="#8a8a8a" stroke-width="1.0"/>
<text x="269.25" y="581.20" font-size="8.8" fill="#231f20" text-anchor="middle" textLength="18.30" lengthAdjust="spacingAndGlyphs">0.05</text>
<line x1="227.80" y1="599.50" x2="267.30" y2="599.50" stroke="#8a8a8a" stroke-width="1.0"/>
<text x="249.30" y="596.60" font-size="8.8" fill="#231f20" text-anchor="middle" textLength="17.60" lengthAdjust="spacingAndGlyphs">0.96</text>
<line x1="266.70" y1="615.00" x2="306.10" y2="615.00" stroke="#8a8a8a" stroke-width="1.0"/>
<text x="288.60" y="612.10" font-size="8.8" fill="#231f20" text-anchor="middle" textLength="21.60" lengthAdjust="spacingAndGlyphs">0.013</text>
<text x="229.80" y="680.00" font-size="8.5" fill="#231f20" text-anchor="middle" textLength="24.90" lengthAdjust="spacingAndGlyphs">DMSO</text>
<text x="269.70" y="680.00" font-size="8.5" fill="#231f20" text-anchor="middle" textLength="23.60" lengthAdjust="spacingAndGlyphs">AmpB</text>
<text x="308.00" y="680.00" font-size="8.5" fill="#231f20" text-anchor="middle" textLength="33.20" lengthAdjust="spacingAndGlyphs">Chloram</text>
<line x1="385.90" y1="524.20" x2="385.90" y2="669.00" stroke="#9a9a9a" stroke-width="0.9"/>
<line x1="382.90" y1="663.25" x2="385.90" y2="663.25" stroke="#aaa" stroke-width="0.8"/>
<text x="379.40" y="666.65" font-size="8.4" fill="#444" text-anchor="end" textLength="4.75" lengthAdjust="spacingAndGlyphs" style="stroke:none">0</text>
<line x1="382.90" y1="632.51" x2="385.90" y2="632.51" stroke="#aaa" stroke-width="0.8"/>
<text x="379.40" y="635.91" font-size="8.4" fill="#444" text-anchor="end" textLength="9.50" lengthAdjust="spacingAndGlyphs" style="stroke:none">10</text>
<line x1="382.90" y1="601.77" x2="385.90" y2="601.77" stroke="#aaa" stroke-width="0.8"/>
<text x="379.40" y="605.17" font-size="8.4" fill="#444" text-anchor="end" textLength="9.50" lengthAdjust="spacingAndGlyphs" style="stroke:none">20</text>
<line x1="382.90" y1="571.03" x2="385.90" y2="571.03" stroke="#aaa" stroke-width="0.8"/>
<text x="379.40" y="574.43" font-size="8.4" fill="#444" text-anchor="end" textLength="9.50" lengthAdjust="spacingAndGlyphs" style="stroke:none">30</text>
<line x1="382.90" y1="540.29" x2="385.90" y2="540.29" stroke="#aaa" stroke-width="0.8"/>
<text x="379.40" y="543.69" font-size="8.4" fill="#444" text-anchor="end" textLength="9.50" lengthAdjust="spacingAndGlyphs" style="stroke:none">40</text>
<line x1="385.90" y1="668.80" x2="510.20" y2="668.80" stroke="#8a8a8a" stroke-width="0.9"/>
<text x="440.75" y="516.50" font-size="8.4" fill="#231f20" text-anchor="middle" textLength="19.30" lengthAdjust="spacingAndGlyphs">Flare</text>
<text x="389.70" y="529.4" font-size="8.5" fill="#231f20" textLength="102.40" lengthAdjust="spacingAndGlyphs">Kruskal–Wallis, <tspan font-style="italic">P</tspan> = 0.0085</text>
<text x="366.20" y="596.70" font-size="8.6" fill="#3a3a3a" text-anchor="middle" transform="rotate(-90 366.20 596.70)" style="stroke:none" textLength="96.50" lengthAdjust="spacingAndGlyphs">Culture ethanol (mg dl<tspan font-size="5.33" dy="-3.4" dx="0.5">−1</tspan><tspan dy="3.4">)</tspan></text>
<line x1="385.90" y1="647.50" x2="508.90" y2="647.50" stroke="#222" stroke-width="0.8" stroke-dasharray="3 2.6"/>
<path d="M409.75,583.02 L448.75,569.19 L487.25,661.71" stroke="#c8c8c8" stroke-width="0.6" fill="none"/>
<path d="M409.75,612.99 L448.75,638.66 L487.25,659.99" stroke="#c8c8c8" stroke-width="0.6" fill="none"/>
<path d="M409.75,622.37 L448.75,633.74 L487.25,633.12" stroke="#c8c8c8" stroke-width="0.6" fill="none"/>
<path d="M409.75,627.90 L448.75,630.67 L487.25,653.72" stroke="#c8c8c8" stroke-width="0.6" fill="none"/>
<path d="M409.75,632.51 L448.75,640.20 L487.25,661.71" stroke="#c8c8c8" stroke-width="0.6" fill="none"/>
<path d="M409.75,637.43 L448.75,643.88 L487.25,662.64" stroke="#c8c8c8" stroke-width="0.6" fill="none"/>
<path d="M409.75,641.12 L448.75,645.11 L487.25,659.99" stroke="#c8c8c8" stroke-width="0.6" fill="none"/>
<path d="M409.75,648.00 L448.75,638.66 L487.25,647.57" stroke="#c8c8c8" stroke-width="0.6" fill="none"/>
<path d="M409.75,663.25 L448.75,663.25 L487.25,662.64" stroke="#c8c8c8" stroke-width="0.6" fill="none"/>
<line x1="409.75" y1="613.14" x2="409.75" y2="622.98" stroke="#111" stroke-width="0.9"/>
<line x1="409.75" y1="645.11" x2="409.75" y2="663.25" stroke="#111" stroke-width="0.9"/>
<rect x="400.00" y="622.98" width="19.50" height="22.13" fill="#ffa502" stroke="#111" stroke-width="0.9" fill-opacity="1.0"/>
<line x1="400.00" y1="632.51" x2="419.50" y2="632.51" stroke="#111" stroke-width="1.9"/>
<line x1="448.75" y1="630.97" x2="448.75" y2="633.74" stroke="#111" stroke-width="0.9"/>
<line x1="448.75" y1="644.19" x2="448.75" y2="646.65" stroke="#111" stroke-width="0.9"/>
<rect x="439.00" y="633.74" width="19.50" height="10.45" fill="#ffa502" stroke="#111" stroke-width="0.9" fill-opacity="1.0"/>
<line x1="439.00" y1="638.66" x2="458.50" y2="638.66" stroke="#111" stroke-width="1.9"/>
<line x1="487.25" y1="633.12" x2="487.25" y2="650.34" stroke="#111" stroke-width="0.9"/>
<line x1="487.25" y1="662.02" x2="487.25" y2="663.25" stroke="#111" stroke-width="0.9"/>
<rect x="477.50" y="650.34" width="19.50" height="11.68" fill="#ffa502" stroke="#111" stroke-width="0.9" fill-opacity="1.0"/>
<line x1="477.50" y1="660.79" x2="497.00" y2="660.79" stroke="#111" stroke-width="1.9"/>
<path d="M409.75,583.02 L448.75,569.19 L487.25,661.71" stroke="#d8d8d8" stroke-width="0.5" fill="none" opacity="0.8"/>
<path d="M409.75,612.99 L448.75,638.66 L487.25,659.99" stroke="#d8d8d8" stroke-width="0.5" fill="none" opacity="0.8"/>
<path d="M409.75,622.37 L448.75,633.74 L487.25,633.12" stroke="#d8d8d8" stroke-width="0.5" fill="none" opacity="0.8"/>
<path d="M409.75,627.90 L448.75,630.67 L487.25,653.72" stroke="#d8d8d8" stroke-width="0.5" fill="none" opacity="0.8"/>
<path d="M409.75,632.51 L448.75,640.20 L487.25,661.71" stroke="#d8d8d8" stroke-width="0.5" fill="none" opacity="0.8"/>
<path d="M409.75,637.43 L448.75,643.88 L487.25,662.64" stroke="#d8d8d8" stroke-width="0.5" fill="none" opacity="0.8"/>
<path d="M409.75,641.12 L448.75,645.11 L487.25,659.99" stroke="#d8d8d8" stroke-width="0.5" fill="none" opacity="0.8"/>
<path d="M409.75,648.00 L448.75,638.66 L487.25,647.57" stroke="#d8d8d8" stroke-width="0.5" fill="none" opacity="0.8"/>
<path d="M409.75,663.25 L448.75,663.25 L487.25,662.64" stroke="#d8d8d8" stroke-width="0.5" fill="none" opacity="0.8"/>
<circle cx="409.75" cy="663.25" r="1.50" fill="#000" stroke="none" stroke-width="0.5"/>
<circle cx="409.75" cy="648.00" r="1.50" fill="#000" stroke="none" stroke-width="0.5"/>
<circle cx="409.75" cy="641.12" r="1.50" fill="#000" stroke="none" stroke-width="0.5"/>
<circle cx="409.75" cy="637.43" r="1.50" fill="#000" stroke="none" stroke-width="0.5"/>
<circle cx="409.75" cy="632.51" r="1.50" fill="#000" stroke="none" stroke-width="0.5"/>
<circle cx="409.75" cy="627.90" r="1.50" fill="#000" stroke="none" stroke-width="0.5"/>
<circle cx="409.75" cy="622.37" r="1.50" fill="#000" stroke="none" stroke-width="0.5"/>
<circle cx="409.75" cy="612.99" r="1.50" fill="#000" stroke="none" stroke-width="0.5"/>
<circle cx="409.75" cy="583.02" r="1.50" fill="#000" stroke="none" stroke-width="0.5"/>
<circle cx="448.75" cy="663.25" r="1.50" fill="#000" stroke="none" stroke-width="0.5"/>
<circle cx="448.75" cy="645.11" r="1.50" fill="#000" stroke="none" stroke-width="0.5"/>
<circle cx="448.75" cy="643.88" r="1.50" fill="#000" stroke="none" stroke-width="0.5"/>
<circle cx="448.75" cy="640.20" r="1.50" fill="#000" stroke="none" stroke-width="0.5"/>
<circle cx="448.75" cy="638.66" r="1.50" fill="#000" stroke="none" stroke-width="0.5"/>
<circle cx="448.75" cy="633.74" r="1.50" fill="#000" stroke="none" stroke-width="0.5"/>
<circle cx="448.75" cy="630.67" r="1.50" fill="#000" stroke="none" stroke-width="0.5"/>
<circle cx="448.75" cy="569.19" r="1.50" fill="#000" stroke="none" stroke-width="0.5"/>
<circle cx="487.25" cy="662.64" r="1.50" fill="#000" stroke="none" stroke-width="0.5"/>
<circle cx="487.25" cy="661.71" r="1.50" fill="#000" stroke="none" stroke-width="0.5"/>
<circle cx="487.25" cy="659.99" r="1.50" fill="#000" stroke="none" stroke-width="0.5"/>
<circle cx="487.25" cy="653.72" r="1.50" fill="#000" stroke="none" stroke-width="0.5"/>
<circle cx="487.25" cy="647.57" r="1.50" fill="#000" stroke="none" stroke-width="0.5"/>
<circle cx="487.25" cy="638.66" r="1.50" fill="#000" stroke="none" stroke-width="0.5"/>
<circle cx="487.25" cy="633.12" r="1.50" fill="#000" stroke="none" stroke-width="0.5"/>
<path d="M409.45,544.70 L409.45,542.50 L487.55,542.50 L487.55,544.70" stroke="#9a9a9a" stroke-width="0.9" fill="none"/>
<text x="451.50" y="539.60" font-size="8.8" fill="#231f20" text-anchor="middle" textLength="23.80" lengthAdjust="spacingAndGlyphs">0.007</text>
<path d="M409.45,555.40 L409.45,553.20 L449.05,553.20 L449.05,555.40" stroke="#9a9a9a" stroke-width="0.9" fill="none"/>
<text x="431.25" y="550.30" font-size="8.8" fill="#231f20" text-anchor="middle" textLength="17.90" lengthAdjust="spacingAndGlyphs">0.48</text>
<path d="M448.45,566.10 L448.45,563.90 L487.55,563.90 L487.55,566.10" stroke="#9a9a9a" stroke-width="0.9" fill="none"/>
<text x="469.65" y="561.00" font-size="8.8" fill="#231f20" text-anchor="middle" textLength="21.50" lengthAdjust="spacingAndGlyphs">0.015</text>
<text x="410.25" y="680.00" font-size="8.5" fill="#231f20" text-anchor="middle" textLength="24.90" lengthAdjust="spacingAndGlyphs">DMSO</text>
<text x="450.60" y="680.00" font-size="8.5" fill="#231f20" text-anchor="middle" textLength="23.60" lengthAdjust="spacingAndGlyphs">AmpB</text>
<text x="488.10" y="680.00" font-size="8.5" fill="#231f20" text-anchor="middle" textLength="33.20" lengthAdjust="spacingAndGlyphs">Chloram</text>
</svg>
</body></html>
